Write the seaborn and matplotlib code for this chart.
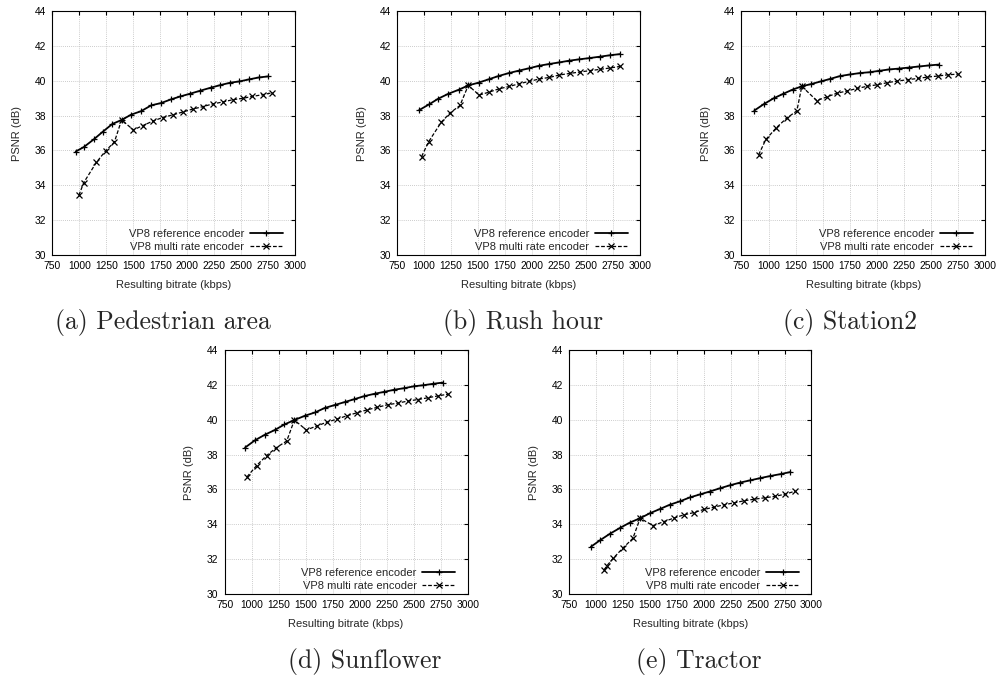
import numpy as np
import pandas as pd
import matplotlib
matplotlib.use("Agg")
import matplotlib.pyplot as plt
import seaborn as sns

# (a) Pedestrian area
ped_ref_kbps = [967, 1041, 1133, 1217, 1306, 1392, 1482, 1571, 1667, 1757, 1849,
                1936, 2028, 2121, 2216, 2306, 2399, 2482, 2574, 2664, 2750]
ped_ref_psnr = [35.94, 36.19, 36.63, 37.07, 37.52, 37.75, 38.06, 38.25, 38.59, 38.72, 38.93,
                39.10, 39.26, 39.43, 39.60, 39.75, 39.89, 39.96, 40.08, 40.19, 40.25]
ped_multi_kbps = [997, 1041, 1158, 1244, 1325, 1392, 1501, 1590, 1679, 1772, 1865,
                  1960, 2053, 2142, 2235, 2328, 2420, 2513, 2602, 2698, 2787]
ped_multi_psnr = [33.43, 34.15, 35.31, 35.98, 36.48, 37.75, 37.18, 37.43, 37.68, 37.89, 38.04,
                  38.21, 38.38, 38.51, 38.67, 38.78, 38.91, 38.99, 39.10, 39.20, 39.31]

# (b) Rush hour
rush_ref_kbps = [954, 1046, 1132, 1225, 1320, 1410, 1505, 1598, 1690, 1785, 1878,
                 1970, 2066, 2158, 2251, 2343, 2439, 2531, 2627, 2719, 2815]
rush_ref_psnr = [38.31, 38.64, 38.97, 39.25, 39.48, 39.73, 39.89, 40.08, 40.27, 40.44, 40.58,
                 40.71, 40.86, 40.96, 41.05, 41.15, 41.23, 41.30, 41.38, 41.46, 41.53]
rush_multi_kbps = [978, 1043, 1160, 1243, 1333, 1410, 1511, 1604, 1696, 1789, 1881,
                   1973, 2066, 2161, 2254, 2349, 2442, 2534, 2627, 2719, 2815]
rush_multi_psnr = [35.65, 36.50, 37.62, 38.16, 38.58, 39.73, 39.18, 39.35, 39.54, 39.67, 39.83,
                   39.96, 40.10, 40.19, 40.33, 40.42, 40.50, 40.58, 40.65, 40.73, 40.82]

# (c) Station2
sta_ref_kbps = [868, 954, 1046, 1132, 1221, 1307, 1393, 1482, 1571, 1660,
                1752, 1841, 1933, 2022, 2114, 2207, 2299, 2391, 2483, 2575]
sta_ref_psnr = [38.29, 38.65, 38.99, 39.24, 39.49, 39.68, 39.81, 39.96, 40.11, 40.27,
                40.36, 40.44, 40.49, 40.57, 40.65, 40.70, 40.76, 40.82, 40.88, 40.93]
sta_multi_kbps = [908, 975, 1071, 1166, 1261, 1307, 1445, 1537, 1629, 1721, 1819,
                  1908, 2003, 2096, 2188, 2283, 2375, 2467, 2562, 2654, 2746]
sta_multi_psnr = [35.75, 36.63, 37.30, 37.85, 38.27, 39.68, 38.86, 39.07, 39.28, 39.41, 39.56,
                  39.68, 39.77, 39.89, 39.98, 40.06, 40.13, 40.21, 40.27, 40.34, 40.38]

# (d) Sunflower
sun_ref_kbps = [939, 1031, 1123, 1215, 1304, 1396, 1494, 1589, 1675, 1768, 1860,
                1952, 2041, 2139, 2228, 2320, 2412, 2504, 2590, 2679, 2768]
sun_ref_psnr = [38.40, 38.82, 39.14, 39.41, 39.73, 39.98, 40.23, 40.42, 40.67, 40.84, 41.01,
                41.18, 41.35, 41.49, 41.60, 41.72, 41.81, 41.92, 41.98, 42.06, 42.13]
sun_multi_kbps = [957, 1046, 1138, 1230, 1325, 1396, 1507, 1602, 1694, 1792, 1884,
                  1976, 2071, 2164, 2259, 2351, 2446, 2541, 2633, 2728, 2821]
sun_multi_psnr = [36.72, 37.37, 37.94, 38.40, 38.78, 39.98, 39.41, 39.64, 39.85, 40.04, 40.23,
                  40.40, 40.57, 40.71, 40.86, 40.95, 41.07, 41.16, 41.26, 41.37, 41.47]

# (e) Tractor
tra_ref_kbps = [951, 1040, 1129, 1221, 1314, 1409, 1498, 1590, 1683, 1775, 1870,
                1962, 2055, 2147, 2239, 2335, 2430, 2525, 2617, 2713, 2805]
tra_ref_psnr = [32.71, 33.10, 33.46, 33.79, 34.10, 34.35, 34.63, 34.87, 35.12, 35.31, 35.54,
                35.71, 35.88, 36.06, 36.23, 36.39, 36.52, 36.65, 36.77, 36.88, 37.00]
tra_multi_kbps = [1074, 1101, 1160, 1249, 1341, 1409, 1529, 1627, 1720, 1812, 1907,
                  1999, 2095, 2187, 2282, 2375, 2469, 2565, 2660, 2756, 2849]
tra_multi_psnr = [31.38, 31.63, 32.06, 32.64, 33.19, 34.35, 33.92, 34.15, 34.35, 34.54, 34.67,
                  34.85, 34.98, 35.12, 35.23, 35.35, 35.44, 35.52, 35.60, 35.73, 35.90]

captions = ["(a) Pedestrian area", "(b) Rush hour", "(c) Station2", "(d) Sunflower", "(e) Tractor"]
x_ticks = [750, 1000, 1250, 1500, 1750, 2000, 2250, 2500, 2750, 3000]
y_ticks = [30, 32, 34, 36, 38, 40, 42, 44]

panels = [
    (ped_ref_kbps, ped_ref_psnr, ped_multi_kbps, ped_multi_psnr),
    (rush_ref_kbps, rush_ref_psnr, rush_multi_kbps, rush_multi_psnr),
    (sta_ref_kbps, sta_ref_psnr, sta_multi_kbps, sta_multi_psnr),
    (sun_ref_kbps, sun_ref_psnr, sun_multi_kbps, sun_multi_psnr),
    (tra_ref_kbps, tra_ref_psnr, tra_multi_kbps, tra_multi_psnr),
]

sns.set_style("white")
plt.rcParams['font.family'] = ['Liberation Sans', 'DejaVu Sans']

fig = plt.figure(figsize=(10.05, 6.77), dpi=100)

# axes rectangles [left, bottom, width, height] in figure fractions
rects = [
    [0.0520, 0.6233, 0.2418, 0.3604],
    [0.3950, 0.6233, 0.2418, 0.3604],
    [0.7378, 0.6233, 0.2425, 0.3604],
    [0.2235, 0.1226, 0.2418, 0.3604],
    [0.5664, 0.1226, 0.2410, 0.3604],
]
# caption anchors (left, baseline)
cap_pos = [(0.055, 0.514), (0.441, 0.514), (0.779, 0.514), (0.287, 0.013), (0.633, 0.013)]

for rect, (rx, ry, mx, my), cap, cpos in zip(rects, panels, captions, cap_pos):
    ax = fig.add_axes(rect)
    ref = pd.DataFrame({"kbps": rx, "psnr": ry})
    multi = pd.DataFrame({"kbps": mx, "psnr": my})
    sns.lineplot(data=ref, x="kbps", y="psnr", ax=ax, color="black", linewidth=1.3,
                 marker="+", markersize=5, markeredgewidth=0.9, markeredgecolor="black",
                 sort=False, label="VP8 reference encoder")
    sns.lineplot(data=multi, x="kbps", y="psnr", ax=ax, color="black", linewidth=0.9,
                 linestyle=(0, (3, 1.5)), marker="x", markersize=4, markeredgewidth=0.9,
                 markeredgecolor="black", sort=False, label="VP8 multi rate encoder")
    ax.set_xlim(750, 3000)
    ax.set_ylim(30, 44)
    ax.set_xticks(x_ticks)
    ax.set_yticks(y_ticks)
    ax.tick_params(axis="both", direction="in", length=3, width=0.8, labelsize=7.4,
                   top=True, right=True, pad=4.5, colors="black")
    ax.grid(True, color="#bbbbbb", linestyle=(0, (1, 1.5)), linewidth=0.6)
    for s in ax.spines.values():
        s.set_color("black")
        s.set_linewidth(0.8)
    ax.set_xlabel("Resulting bitrate (kbps)", fontsize=8, labelpad=6)
    ax.set_ylabel("PSNR (dB)", fontsize=8, labelpad=9)
    ax.legend(loc="lower right", bbox_to_anchor=(0.95, 0.012), frameon=False,
              markerfirst=False, fontsize=8, handlelength=3.0, handletextpad=0.5,
              labelspacing=0.3, borderaxespad=0, borderpad=0, numpoints=1)
    fig.text(cpos[0], cpos[1], cap, fontfamily="cmr10", fontsize=18.5,
             ha="left", va="baseline")

fig.savefig("out.png", dpi=100)
